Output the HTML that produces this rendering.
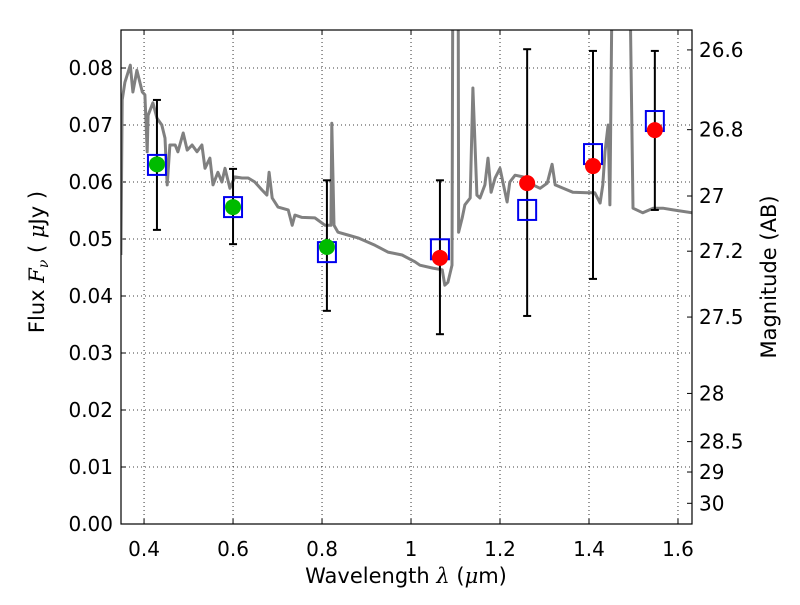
<!DOCTYPE html>
<html><head><meta charset="utf-8"><style>
body{margin:0;background:#fff}
svg text{font-family:"DejaVu Sans","Liberation Sans",sans-serif;fill:#000}
</style></head><body>
<svg id="c" width="800" height="600" xmlns="http://www.w3.org/2000/svg"></svg>
<script>
const specLam=[0.348,0.351,0.357,0.369,0.375,0.384,0.396,0.402,0.407,0.409,0.420,0.429,0.440,0.447,0.452,0.458,0.470,0.476,0.488,0.497,0.508,0.519,0.530,0.537,0.548,0.555,0.566,0.575,0.582,0.593,0.604,0.620,0.634,0.649,0.665,0.676,0.681,0.688,0.701,0.724,0.733,0.739,0.755,0.784,0.807,0.820,0.822,0.827,0.836,0.858,0.881,0.919,0.948,0.980,1.009,1.020,1.049,1.070,1.076,1.083,1.092,1.094,1.106,1.107,1.115,1.121,1.133,1.139,1.148,1.155,1.166,1.173,1.180,1.189,1.200,1.216,1.222,1.234,1.252,1.274,1.290,1.306,1.317,1.324,1.342,1.364,1.396,1.413,1.425,1.431,1.436,1.443,1.447,1.452,1.492,1.499,1.521,1.544,1.566,1.589,1.632];
const specFlux=[0.0472,0.0744,0.0775,0.0805,0.0758,0.0796,0.0758,0.0753,0.0653,0.0717,0.0739,0.0712,0.0700,0.0677,0.0595,0.0665,0.0665,0.0653,0.0686,0.0656,0.0665,0.0653,0.0665,0.0624,0.0642,0.0595,0.0617,0.0600,0.0624,0.0589,0.0609,0.0607,0.0607,0.0600,0.0586,0.0577,0.0617,0.0572,0.0556,0.0551,0.0524,0.0542,0.0538,0.0537,0.0524,0.0524,0.0703,0.0524,0.0512,0.0507,0.0502,0.0489,0.0477,0.0472,0.0460,0.0454,0.0449,0.0446,0.0419,0.0424,0.0454,0.095,0.095,0.0512,0.0537,0.0560,0.0572,0.0765,0.0577,0.0572,0.0595,0.0642,0.0582,0.0607,0.0624,0.0565,0.0600,0.0612,0.0609,0.0595,0.0589,0.0598,0.0631,0.0595,0.0589,0.0582,0.0581,0.0581,0.0563,0.0595,0.0653,0.0700,0.0560,0.095,0.095,0.0554,0.0546,0.0554,0.0554,0.0551,0.0546];
const bandLam=[0.429,0.600,0.811,1.065,1.261,1.409,1.548];
const obsFlux=[0.0631,0.0556,0.0486,0.0467,0.0598,0.0628,0.0691];
const obsColor=["#00bb00","#00bb00","#00bb00","red","red","red","red"];
const modelFlux=[0.0630,0.0556,0.0477,0.0482,0.0551,0.0649,0.0707];
const errHigh=[0.0744,0.0623,0.0603,0.0603,0.0833,0.0830,0.0830];
const errLow=[0.0516,0.0491,0.0374,0.0333,0.0365,0.0430,0.0551];
const xTicks=[0.4,0.6,0.8,1.0,1.2,1.4,1.6];
const xTickLabels=["0.4","0.6","0.8","1","1.2","1.4","1.6"];
const yTicks=[0,0.01,0.02,0.03,0.04,0.05,0.06,0.07,0.08];
const magTicks=[26.6,26.8,27,27.2,27.5,28,28.5,29,30];

const L=121,R=692,T=30,B=524;
const xMin=0.3482,xMax=1.6315,yMin=0,yMax=0.08667;
const X=v=>L+(v-xMin)/(xMax-xMin)*(R-L);
const Y=v=>B-(v-yMin)/(yMax-yMin)*(B-T);
const svg=document.getElementById('c');
const NS="http://www.w3.org/2000/svg";
function mk(tag,attrs,parent){const e=document.createElementNS(NS,tag);for(const k in attrs)e.setAttribute(k,attrs[k]);(parent||svg).appendChild(e);return e;}

const defs=mk('defs',{});
const cp=mk('clipPath',{id:'clip'},defs);
mk('rect',{x:L,y:T,width:R-L,height:B-T},cp);

xTicks.forEach((t,i)=>{
  const g=mk('line',{x1:X(t),x2:X(t),y1:T,y2:B,stroke:'#000','stroke-width':0.8,'stroke-dasharray':'1,3'});
  
  
  mk('line',{x1:X(t),x2:X(t),y1:B,y2:B-5,stroke:'#000'});
  mk('line',{x1:X(t),x2:X(t),y1:T,y2:T+5,stroke:'#000'});
  const tx=mk('text',{x:X(t),y:556,'font-size':20,'text-anchor':'middle'});
  tx.textContent=xTickLabels[i];
  
  
});
yTicks.forEach(t=>{
  const g=mk('line',{x1:L,x2:R,y1:Y(t),y2:Y(t),stroke:'#000','stroke-width':0.8,'stroke-dasharray':'1,3'});
  
  
  mk('line',{x1:L,x2:L+5,y1:Y(t),y2:Y(t),stroke:'#000'});
  const tx=mk('text',{x:L-8,y:Y(t)+7,'font-size':20,'text-anchor':'end'});
  tx.textContent=t.toFixed(2);
  
  
});
magTicks.forEach(m=>{
  const f=Math.pow(10,(23.9-m)/2.5);
  const y=Y(f);
  mk('line',{x1:R,x2:R-5,y1:y,y2:y,stroke:'#000'});
  const tx=mk('text',{x:R+7,y:y+7,'font-size':20});
  tx.textContent=String(m);
  
  
});

const pts=specLam.map((l,i)=>X(l).toFixed(1)+','+Y(specFlux[i]).toFixed(1)).join(' ');
const sp=mk('polyline',{points:pts,fill:'none',stroke:'#808080','stroke-width':3,'stroke-linejoin':'round','clip-path':'url(#clip)'});



bandLam.forEach((l,i)=>{
  const g=mk('g',{stroke:'#000','stroke-width':2});
  
  
  const x=X(l);
  mk('line',{x1:x,x2:x,y1:Y(errHigh[i]),y2:Y(errLow[i])},g);
  mk('line',{x1:x-4,x2:x+4,y1:Y(errHigh[i]),y2:Y(errHigh[i])},g);
  mk('line',{x1:x-4,x2:x+4,y1:Y(errLow[i]),y2:Y(errLow[i])},g);
});
bandLam.forEach((l,i)=>{
  const r=mk('rect',{x:X(l)-9,y:Y(modelFlux[i])-10,width:18,height:20,fill:'none',stroke:'#0000ee','stroke-width':2});
  
  
});
bandLam.forEach((l,i)=>{
  const c=mk('circle',{cx:X(l),cy:Y(obsFlux[i]),r:8,fill:obsColor[i]});
  
  
});

const fr=mk('rect',{x:L,y:T,width:R-L,height:B-T,fill:'none',stroke:'#000','stroke-width':1.2});



const xl=mk('text',{x:406,y:583,'font-size':21,'text-anchor':'middle'});
xl.innerHTML='Wavelength  <tspan font-style="italic" font-family="DejaVu Serif,serif">λ</tspan> (<tspan font-style="italic" font-family="DejaVu Serif,serif">μ</tspan>m)';


const yl=mk('text',{x:0,y:0,'font-size':21,'text-anchor':'middle',transform:'translate(44,262) rotate(-90)'});
yl.innerHTML='Flux  <tspan font-style="italic" font-family="DejaVu Serif,serif">F<tspan font-size="14" dy="4">ν</tspan></tspan><tspan dy="-4">  ( </tspan><tspan font-style="italic" font-family="DejaVu Serif,serif">μ</tspan>Jy )';


const rl=mk('text',{x:0,y:0,'font-size':21,'text-anchor':'middle',transform:'translate(776,277) rotate(-90)'});
rl.textContent='Magnitude (AB)';


</script>
</body></html>
